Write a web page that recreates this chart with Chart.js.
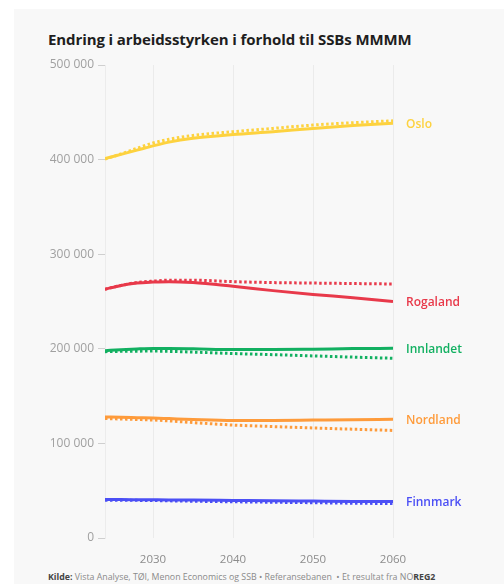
<!DOCTYPE html>
<html>
    <head>
        <meta name="viewport" content="width=device-width, initial-scale=1.0">
        <title>Endring i arbeidsstyrken</title>
        <script src="https://cdn.jsdelivr.net/npm/chart.js/dist/chart.umd.min.js"></script>
        <style>
            body { margin: 0; background: #ffffff; font-family: "Open Sans", sans-serif; }
            .panel { position: absolute; left: 14px; top: 9px; width: 490px; height: 575px; background: #f8f8f8; }
            .title { position: absolute; left: 48px; top: 29px; font-size: 15px; font-weight: 700; color: #1e1e1e; letter-spacing: -0.1px; }
            .kilde { position: absolute; left: 48px; top: 571px; font-size: 8.8px; color: #8a8a8a; white-space: nowrap; }
            .kilde b { color: #444; }
            #chart { position: absolute; left: 0; top: 0; }
        </style>
    </head>
    <body>
        <div class="panel"></div>
        <div class="title">Endring i arbeidsstyrken i forhold til SSBs MMMM</div>
        <div class="kilde"><b>Kilde:</b> Vista Analyse, TØI, Menon Economics og SSB • Referansebanen &nbsp;• Et resultat fra NO<b>REG2</b></div>
        <canvas id="chart" width="504" height="584"></canvas>

    <script>
        // years on the x axis
        const years = [2024, 2026, 2028, 2030, 2032, 2035, 2040, 2045, 2050, 2055, 2060];
        const xTicks = [2030, 2040, 2050, 2060];
        const regions = ['Oslo', 'Rogaland', 'Innlandet', 'Nordland', 'Finnmark'];
        const colors = ['#fdd23f', '#e8394a', '#12b061', '#fe9b3b', '#4b4ff5'];

        // solid = referansebanen, dotted = SSB MMMM
        const osloRef  = [401000, 405500, 410000, 414500, 418500, 422500, 426500, 429500, 433000, 436000, 438500];
        const osloSsb  = [400500, 406000, 412000, 417500, 421500, 425500, 429500, 433000, 436500, 439000, 441000];
        const rogaRef  = [263000, 267000, 269500, 270500, 271000, 270000, 266000, 261500, 257500, 254000, 250000];
        const rogaSsb  = [263000, 267000, 270000, 271500, 272500, 272500, 271000, 270000, 269500, 269000, 268500];
        const innlRef  = [198000, 199000, 199800, 200300, 200300, 200000, 199200, 199200, 199600, 200200, 200500];
        const innlSsb  = [197000, 197300, 197500, 197600, 197300, 196500, 195000, 193800, 192500, 191200, 190000];
        const nordRef  = [127900, 127600, 127200, 126800, 126200, 125300, 124300, 124300, 124700, 125100, 125400];
        const nordSsb  = [126300, 125800, 125300, 124700, 123800, 122000, 119400, 117800, 116300, 115000, 113700];
        const finnRef  = [40600, 40600, 40500, 40400, 40300, 40100, 39700, 39300, 39000, 38700, 38500];
        const finnSsb  = [40000, 39900, 39800, 39600, 39300, 38900, 38300, 37800, 37300, 36800, 36400];

        const refSeries = [osloRef, rogaRef, innlRef, nordRef, finnRef];
        const ssbSeries = [osloSsb, rogaSsb, innlSsb, nordSsb, finnSsb];

        function toPoints(values) {
            return values.map((v, i) => ({ x: years[i], y: v }));
        }

        const datasets = [];
        regions.forEach((name, i) => {
            datasets.push({
                label: name,
                data: toPoints(refSeries[i]),
                borderColor: colors[i],
                borderWidth: 3,
                pointRadius: 0,
                cubicInterpolationMode: 'monotone'
            });
            datasets.push({
                label: name + ' MMMM',
                data: toPoints(ssbSeries[i]),
                borderColor: colors[i],
                borderWidth: 3,
                borderDash: [2.5, 2.5],
                pointRadius: 0,
                cubicInterpolationMode: 'monotone'
            });
        });

        // region names at the end of the solid lines
        const endLabels = {
            id: 'endLabels',
            afterDatasetsDraw(chart) {
                const ctx = chart.ctx;
                const yScale = chart.scales.y;
                ctx.save();
                ctx.font = '600 12px "Open Sans", sans-serif';
                ctx.textBaseline = 'middle';
                ctx.textAlign = 'left';
                regions.forEach((name, i) => {
                    const last = refSeries[i][refSeries[i].length - 1];
                    ctx.fillStyle = colors[i];
                    ctx.fillText(name, chart.chartArea.right + 13, yScale.getPixelForValue(last) + 1);
                });
                ctx.restore();
            }
        };

        const ctx = document.getElementById('chart').getContext('2d');
        new Chart(ctx, {
            type: 'line',
            data: { datasets: datasets },
            plugins: [endLabels],
            options: {
                responsive: false,
                animation: false,
                layout: { padding: { top: 65, right: 111, bottom: 16, left: 0 } },
                plugins: { legend: { display: false }, tooltip: { enabled: false } },
                scales: {
                    x: {
                        type: 'linear',
                        min: 2024,
                        max: 2060,
                        afterBuildTicks: axis => { axis.ticks = xTicks.map(v => ({ value: v })); },
                        afterFit: axis => { axis.height = 30; },
                        grid: { color: '#ebebeb', drawTicks: false },
                        border: { display: false },
                        ticks: {
                            padding: 15,
                            color: '#8c8c8c',
                            font: { family: 'Open Sans', size: 11.5 },
                            callback: v => String(v)
                        }
                    },
                    y: {
                        min: 0,
                        max: 500000,
                        afterFit: axis => { axis.width = 105; },
                        grid: { drawOnChartArea: false, tickLength: 7, color: '#cfcfcf' },
                        border: { color: '#ececec' },
                        ticks: {
                            stepSize: 100000,
                            padding: 4,
                            color: '#a0a0a0',
                            font: { family: 'Open Sans', size: 12 },
                            callback: v => String(v).replace(/\B(?=(\d{3})+(?!\d))/g, ' ')
                        }
                    }
                }
            }
        });
    </script>
    </body>
</html>
